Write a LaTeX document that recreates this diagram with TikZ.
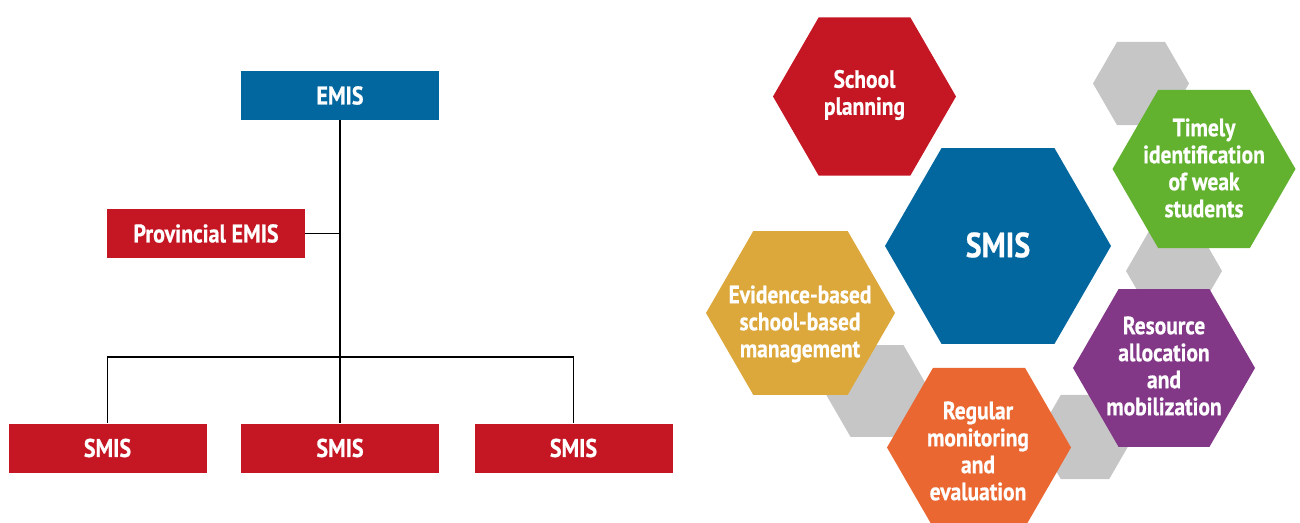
\documentclass[tikz,border=0pt]{standalone}
\usepackage{fontspec}
\setmainfont{PT Sans}[FakeStretch=0.86, FakeBold=0.6]
\definecolor{cblue}{HTML}{02679F}
\definecolor{cred}{HTML}{C51623}
\definecolor{cgreen}{HTML}{62B22F}
\definecolor{cgold}{HTML}{DCA83B}
\definecolor{corange}{HTML}{EA6731}
\definecolor{cpurple}{HTML}{833787}
\definecolor{cgray}{HTML}{C6C6C6}
\newcommand\hexfill[4]{\fill[#1,shift={(#2,#3)}] (0:#4) -- (60:#4) -- (120:#4) -- (180:#4) -- (240:#4) -- (300:#4) -- cycle;}
\tikzset{
  orgbox/.style={minimum width=99pt, minimum height=24.5pt, inner sep=0pt, text=white,
    font=\bfseries\fontsize{12.8}{15}\selectfont},
  hextext/.style={align=center, text=white, inner sep=0pt,
    font=\bfseries\fontsize{12.5}{13.5}\selectfont},
  conn/.style={draw=black, line width=0.9pt}
}
\begin{document}
\begin{tikzpicture}[x=0.5pt,y=-0.5pt]
\useasboundingbox (0,0) rectangle (1300,523);
% ---------- org chart ----------
\node[orgbox, fill=cblue] (emis) at (340,95.5) {EMIS};
\node[orgbox, fill=cred] (prov) at (206,233.5) {Provincial EMIS};
\node[orgbox, fill=cred] (smisa) at (107.5,448) {SMIS};
\node[orgbox, fill=cred] (smisb) at (340,448) {SMIS};
\node[orgbox, fill=cred] (smisc) at (573.5,448) {SMIS};
\coordinate (bus) at (340,357);
\draw[conn] (emis.south) -- (smisb.north);
\draw[conn] (prov.east) -- (prov.east -| emis.south);
\draw[conn] (smisa.north) -- (smisa.north |- bus) -- (smisc.north |- bus) -- (smisc.north);
% ---------- hexagons ----------
\hexfill{cgray}{1141}{83.5}{48}
\hexfill{cgray}{1174}{271}{48}
\hexfill{cgray}{877}{391}{53}
\hexfill{cgray}{1085}{437}{48.5}
\hexfill{cred}{864.5}{96.5}{91.5}
\hexfill{cblue}{998}{246}{113}
\hexfill{cgreen}{1204}{169}{91.5}
\hexfill{cgold}{800.5}{313}{94.5}
\hexfill{cpurple}{1164}{368}{91}
\hexfill{corange}{979}{447.5}{92}
\node[hextext] (tplan) at (864.5,95) {School\\planning};
\node[hextext, font=\bfseries\fontsize{17.5}{20}\selectfont] (tsmis) at (998,245) {SMIS};
\node[hextext] (tweak) at (1204,168) {Timely\\identification\\of weak\\students};
\node[hextext] (tevid) at (800,324) {Evidence-based\\school-based\\management};
\node[hextext] (tres) at (1164,366) {Resource\\allocation\\and\\mobilization};
\node[hextext] (treg) at (978,451) {Regular\\monitoring\\and\\evaluation};
\end{tikzpicture}
\end{document}
